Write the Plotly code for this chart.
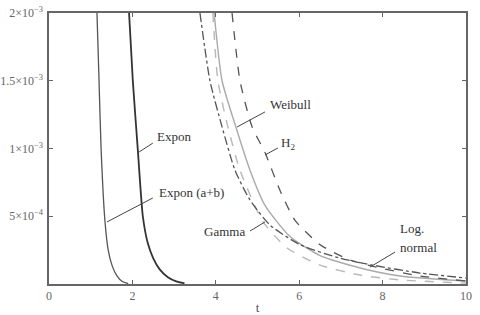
import plotly.graph_objects as go

# Data (t, density)
expon_ab_t = [1.15, 1.20, 1.25, 1.34, 1.42, 1.52, 1.63, 1.75, 1.90]
expon_ab_v = [2.0e-3, 1.5e-3, 0.99e-3, 0.47e-3, 0.25e-3, 0.13e-3, 0.06e-3, 0.02e-3, 0.003e-3]

expon_t = [1.92, 2.01, 2.13, 2.25, 2.37, 2.50, 2.65, 2.85, 3.05, 3.25]
expon_v = [2.0e-3, 1.5e-3, 0.99e-3, 0.50e-3, 0.30e-3, 0.19e-3, 0.11e-3, 0.05e-3, 0.02e-3, 0.005e-3]

lognorm_t = [3.62, 3.86, 4.15, 4.46, 4.82, 5.30, 6.02, 6.98, 7.75, 8.9, 10.0]
lognorm_v = [2.0e-3, 1.5e-3, 1.16e-3, 0.84e-3, 0.62e-3, 0.435e-3, 0.29e-3, 0.19e-3, 0.14e-3, 0.081e-3, 0.044e-3]

weibull_t = [3.96, 4.15, 4.48, 4.82, 5.18, 5.78, 6.5, 7.46, 8.42, 10.0]
weibull_v = [2.0e-3, 1.5e-3, 1.16e-3, 0.84e-3, 0.58e-3, 0.35e-3, 0.21e-3, 0.118e-3, 0.059e-3, 0.022e-3]

gamma_t = [3.93, 4.05, 4.29, 4.58, 5.13, 5.71, 6.5, 7.46, 8.42, 10.0]
gamma_v = [2.0e-3, 1.5e-3, 1.16e-3, 0.84e-3, 0.46e-3, 0.266e-3, 0.14e-3, 0.066e-3, 0.03e-3, 0.007e-3]

h2_t = [4.39, 4.58, 4.87, 5.18, 5.54, 5.9, 6.5, 7.22, 7.94, 8.9, 10.0]
h2_v = [2.0e-3, 1.5e-3, 1.16e-3, 0.97e-3, 0.69e-3, 0.47e-3, 0.29e-3, 0.177e-3, 0.118e-3, 0.059e-3, 0.022e-3]

x_ticks = [0, 2, 4, 6, 8, 10]
y_ticks = [5e-4, 1e-3, 1.5e-3, 2e-3]
y_tick_text = ["5×10<sup>−4</sup>", "1×10<sup>−3</sup>", "1.5×10<sup>−3</sup>", "2×10<sup>−3</sup>"]

FONT = "Liberation Serif, Times New Roman, serif"

fig = go.Figure()

def add(t, v, color, width, dash):
    fig.add_trace(go.Scatter(x=t, y=v, mode="lines",
                             line=dict(color=color, width=width, dash=dash, shape="spline", smoothing=0.6),
                             showlegend=False, hoverinfo="skip"))

add(expon_ab_t, expon_ab_v, "#555555", 1.3, "solid")
add(expon_t, expon_v, "#333333", 1.8, "solid")
add(weibull_t, weibull_v, "#aaaaaa", 1.4, "solid")
add(gamma_t, gamma_v, "#b8b8b8", 1.4, "dash")
add(lognorm_t, lognorm_v, "#555555", 1.3, "dashdot")
add(h2_t, h2_v, "#555555", 1.3, "dash")

# pointer lines for labels (annotation leaders)
leaders = [
    (2.49, 1.04e-3, 2.16, 0.974e-3),
    (2.49, 0.635e-3, 1.39, 0.458e-3),
    (4.82, 0.391e-3, 5.18, 0.458e-3),
    (5.18, 1.27e-3, 4.51, 1.159e-3),
    (5.49, 1.004e-3, 5.18, 0.952e-3),
    (8.30, 0.236e-3, 7.70, 0.125e-3),
]
for x0, y0, x1, y1 in leaders:
    fig.add_shape(type="line", x0=x0, y0=y0, x1=x1, y1=y1, xref="x", yref="y",
                  line=dict(color="#444444", width=1))

labels = [
    ("Expon", 2.54, 1.085e-3),
    ("Expon (a+b)", 2.59, 0.672e-3),
    ("Gamma", 3.67, 0.384e-3),
    ("Weibull", 5.25, 1.328e-3),
    ("H<sub>2</sub>", 5.52, 1.04e-3),
    ("Log.", 8.37, 0.413e-3),
    ("normal", 8.37, 0.273e-3),
]
for txt, x, y in labels:
    fig.add_annotation(x=x, y=y, text=txt, showarrow=False, xanchor="left", yanchor="middle",
                       font=dict(family=FONT, size=13, color="#333333"))

axis_common = dict(showline=True, linecolor="#666666", linewidth=1.5, mirror="ticks",
                   ticks="inside", ticklen=4, tickcolor="#666666", showgrid=False, zeroline=False,
                   automargin=False,
                   tickfont=dict(family=FONT, size=12, color="#666666"))

fig.update_xaxes(range=[0, 10], tickvals=x_ticks, ticktext=[str(v) for v in x_ticks],
                 title=dict(text="t", font=dict(family=FONT, size=13, color="#555555"), standoff=4),
                 **axis_common)
fig.update_yaxes(range=[0, 2e-3], tickvals=y_ticks, ticktext=y_tick_text, ticklabelstandoff=2, **axis_common)

fig.update_layout(width=480, height=315, margin=dict(l=49, r=14, t=13, b=31, autoexpand=False),
                  plot_bgcolor="white", paper_bgcolor="white")

fig.write_html("out.html", config={"displayModeBar": False},
               post_script="document.body.style.margin='0';document.body.style.overflow='hidden';")
